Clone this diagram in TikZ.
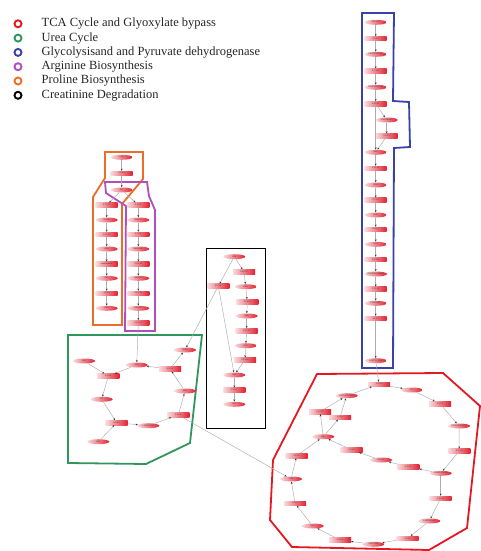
\documentclass[tikz,border=0pt]{standalone}
\usepackage{fontspec}
\setmainfont{Liberation Serif}
\newfontfamily\lblfont{Liberation Sans}
\usetikzlibrary{shapes.geometric,arrows.meta}
\definecolor{cRed}{RGB}{228,24,34}
\definecolor{cGreen}{RGB}{48,150,92}
\definecolor{cBlue}{RGB}{58,66,168}
\definecolor{cPurple}{RGB}{178,78,188}
\definecolor{cOrange}{RGB}{236,108,40}
\definecolor{pinkL}{RGB}{250,218,220}
\definecolor{redR}{RGB}{226,34,48}
\tikzset{
  lbl/.style={font=\lblfont\fontsize{2}{2}\selectfont, text=black!80},
  met/.style={lbl, ellipse, minimum width=22pt, minimum height=5pt, inner sep=0pt, left color=pinkL, right color=redR},
  enz/.style={lbl, rectangle, minimum width=22pt, minimum height=4.6pt, inner sep=0pt, left color=pinkL, right color=redR},
  arr/.style={draw=gray!65, line width=0.45pt, -{Stealth[length=2.2pt,width=1.8pt,color=gray!40!black]}},
  hull/.style={line width=1.8pt, line join=miter},
  legring/.style={circle, line width=1.9pt, minimum size=7pt, inner sep=0pt},
  legtext/.style={anchor=west, font=\fontsize{12.5}{13}\selectfont, text=black!85, inner sep=0pt}
}
\begin{document}
\begin{tikzpicture}[x=1pt,y=-1pt]
\useasboundingbox (0,0) rectangle (480,551);
\fill[white] (0,0) rectangle (480,551);

% ---------- legend ----------
\foreach \i/\c/\t in {0/cRed/TCA Cycle and Glyoxylate bypass,
                      1/cGreen/Urea Cycle,
                      2/cBlue/Glycolysisand and Pyruvate dehydrogenase,
                      3/cPurple/Arginine Biosynthesis,
                      4/cOrange/Proline Biosynthesis,
                      5/black/Creatinine Degradation}{
  \node[legring, draw=\c] (lg\i) at (18,23.8+14.3*\i) {};
  \node[legtext] (lt\i) at (41.5,23.8+14.3*\i) {\t};
}

% ---------- hulls ----------
\draw[hull, cOrange] (105,152) -- (143,152) -- (143,179) -- (122,204) -- (122,325) -- (93,325) -- (93,197) -- (105,178) -- cycle;
\draw[hull, cPurple] (105,182) -- (147,182) -- (149,196) -- (155,210) -- (155,331) -- (125,331) -- (126,206) -- (106,193) -- cycle;
\draw[hull, cGreen] (68,335) -- (202,335) -- (190,443) -- (146,464) -- (68,463) -- cycle;
\draw[hull, black] (206.5,248.5) rectangle (265.5,428.5);
\draw[hull, cBlue] (362,13) -- (394,13) -- (393,101) -- (409,102) -- (410,147) -- (394,148) -- (393,368) -- (362,368) -- cycle;
\draw[hull, cRed] (317,374) -- (443,373) -- (480,406) -- (467,528) -- (429,550) -- (292,547) -- (270,520) -- (273,460) -- cycle;

% ---------- proline / arginine ----------
\node[met] (o1) at (121.7,157.3) {2-KG};
\node[enz] (o2) at (121.7,173.3) {1.4.1.4};
\node[met] (o3) at (121.7,190) {GLT};
\node[enz] (pl1) at (106.7,205) {2.7.2.11};
\node[met] (pl2) at (106.7,220) {GLU5P};
\node[enz] (pl3) at (106.7,234.3) {1.2.1.41};
\node[met] (pl4) at (106.7,249) {GSA};
\node[enz] (pl5) at (106.7,264) {spontaneous};
\node[met] (pl6) at (106.7,278.3) {P5C};
\node[enz] (pl7) at (106.7,293.3) {1.5.1.2};
\node[met] (pl8) at (106.7,308.3) {PRO};
\node[enz] (ar1) at (138.3,205) {2.3.1.1};
\node[met] (ar2) at (138.3,220) {NAGLU};
\node[enz] (ar3) at (138.3,234.3) {2.7.2.8};
\node[met] (ar4) at (138.3,249) {NAGLU5P};
\node[enz] (ar5) at (138.3,264) {1.2.1.38};
\node[met] (ar6) at (138.3,278.3) {NAGSA};
\node[enz] (ar7) at (138.3,293.3) {2.6.1.11};
\node[met] (ar8) at (138.3,308.3) {NAORN};
\node[enz] (ar9) at (138.3,322.7) {3.5.1.16};

% ---------- urea cycle ----------
\node[met] (gcap) at (84,361) {CAP};
\node[enz] (g2133) at (108.3,376) {2.1.3.3};
\node[met] (gorn) at (136.7,365) {ORN};
\node[enz] (g3531) at (170,369) {3.5.3.1};
\node[met] (gurea) at (185,350) {UREA};
\node[met] (garg) at (185,391) {ARG};
\node[enz] (g4321) at (178.3,415) {4.3.2.1};
\node[met] (gargs) at (148.3,425.7) {L-ARGSUCC};
\node[enz] (g6345) at (116.7,422.7) {6.3.4.5};
\node[met] (gcit) at (101.7,399.3) {CIT};
\node[met] (gasp) at (98.3,441.7) {ASP};

% ---------- creatinine ----------
\node[met] (b1) at (234.3,256.7) {CRE};
\node[enz] (b2) at (244,271.7) {3.5.2.10};
\node[enz] (b3) at (218.3,286) {3.5.3.3};
\node[met] (b4) at (245.7,286.7) {CRN};
\node[enz] (b5) at (247.3,301.7) {3.5.4.21};
\node[met] (b6) at (246.7,316) {NMH};
\node[enz] (b7) at (246.7,330.7) {3.5.2.14};
\node[met] (b8) at (245.7,345.7) {NCS};
\node[enz] (b9) at (245,360) {3.5.1.59};
\node[met] (b10) at (234.3,375) {SAR};
\node[enz] (b11) at (234.3,390) {1.5.3.1};
\node[met] (b12) at (234.3,404.3) {GLY};

% ---------- glycolysis ----------
\node[met] (y1) at (375.7,22.3) {GLC-6-P};
\node[enz] (y2) at (375.7,38.7) {5.3.1.9};
\node[met] (y3) at (375.7,54.3) {FRUCTOSE-6P};
\node[enz] (y4) at (375.7,71) {2.7.1.11};
\node[met] (y5) at (375.7,87.3) {FRUCTOSE-16P};
\node[enz] (y6) at (375.7,103.7) {4.1.2.13};
\node[met] (y7) at (386.7,120) {DIHYDROXY};
\node[enz] (y8) at (386.7,136) {5.3.1.1};
\node[met] (y9) at (375.7,152.3) {GAP};
\node[enz] (y10) at (375.7,168.3) {1.2.1.12};
\node[met] (y11) at (375.7,185) {DPG};
\node[enz] (y12) at (375.7,200) {2.7.2.3};
\node[met] (y13) at (375.7,215) {G3P};
\node[enz] (y14) at (375.7,229.3) {5.4.2.1};
\node[met] (y15) at (375.7,244.3) {2-PG};
\node[enz] (y16) at (375.7,259.3) {4.2.1.11};
\node[met] (y17) at (375.7,274) {PHOSPHO-ENOL};
\node[enz] (y18) at (375.7,289) {2.7.1.40};
\node[met] (y19) at (375.7,303.3) {PYRUVATE};
\node[enz] (y20) at (375.7,318.3) {1.2.4.1};
\node[met] (y21) at (375.7,360.7) {ACETYL-COA};

% ---------- TCA ----------
\node[enz] (r2331) at (379,384.3) {2.3.3.1};
\node[met] (rcit) at (411.7,390) {CIT};
\node[enz] (r4213a) at (440,403.7) {4.2.1.3};
\node[met] (rcis) at (459,426) {CIS-ACONITATE};
\node[enz] (r4213b) at (459.3,451) {4.2.1.3};
\node[met] (riso) at (440.7,473.3) {THREO-DS-ISO};
\node[enz] (r11142) at (440.7,498.3) {1.1.1.42};
\node[met] (r2kg) at (429.3,521) {2-KETOGLUT};
\node[enz] (r1242) at (407.7,538.3) {1.2.4.2};
\node[met] (rscoa) at (373.3,544.3) {SUC-COA};
\node[enz] (r6215) at (340,540) {6.2.1.5};
\node[met] (rsuc) at (312.7,526) {SUC};
\node[enz] (r1351) at (295,503.3) {1.3.5.1};
\node[met] (rfum) at (291,479) {FUM};
\node[enz] (r4212) at (296.7,455.7) {4.2.1.2};
\node[met] (rmal) at (323.3,436.7) {MAL};
\node[enz] (r11137) at (320,411.7) {1.1.1.37};
\node[enz] (r1154) at (340,417.3) {1.1.5.4};
\node[met] (roaa) at (346.7,395.7) {OXALACETATE};
\node[enz] (r2339) at (351.7,450) {2.3.3.9};
\node[met] (rgly) at (381,460) {GLYOX};
\node[enz] (r4131) at (408.3,466.7) {4.1.3.1};

% ---------- edges ----------
\foreach \a/\b in {o1/o2, o2/o3, o3/pl1, o3/ar1,
  pl1/pl2, pl2/pl3, pl3/pl4, pl4/pl5, pl5/pl6, pl6/pl7, pl7/pl8,
  ar1/ar2, ar2/ar3, ar3/ar4, ar4/ar5, ar5/ar6, ar6/ar7, ar7/ar8, ar8/ar9, ar9/gorn,
  gcap/g2133, gorn/g2133, g2133/gcit, gcit/g6345, gasp/g6345, g6345/gargs, gargs/g4321,
  g4321/garg, garg/g3531, g3531/gorn, g3531/gurea, g4321/rfum,
  b1/b2, b2/b4, b4/b5, b5/b6, b6/b7, b7/b8, b8/b9, b9/b10, b1/b3, b3/b10, b10/b11, b11/b12, b3/gurea,
  y1/y2, y2/y3, y3/y4, y4/y5, y5/y6, y6/y7, y7/y8, y8/y9, y6/y9, y9/y10, y10/y11, y11/y12,
  y12/y13, y13/y14, y14/y15, y15/y16, y16/y17, y17/y18, y18/y19, y19/y20, y20/y21, y21/r2331,
  roaa/r2331, r2331/rcit, rcit/r4213a, r4213a/rcis, rcis/r4213b, r4213b/riso, riso/r11142,
  r11142/r2kg, r2kg/r1242, r1242/rscoa, rscoa/r6215, r6215/rsuc, rsuc/r1351, r1351/rfum,
  rfum/r4212, r4212/rmal, rmal/r11137, r11137/roaa, rmal/r1154, r1154/roaa,
  riso/r4131, r4131/rgly, rgly/r2339, r2339/rmal}
  \draw[arr] (\a) -- (\b);
\end{tikzpicture}
\end{document}
